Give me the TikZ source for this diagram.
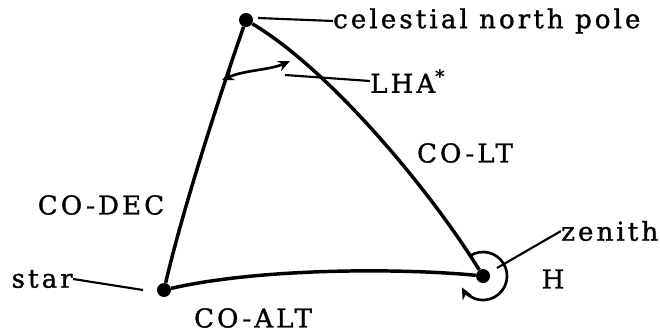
\documentclass[tikz,border=0pt]{standalone}
\usepackage{fontspec}
\setmainfont{DejaVu Serif}[LetterSpace=12,FakeBold=1.2]
\usetikzlibrary{arrows.meta}
\begin{document}
\begin{tikzpicture}[x=0.75pt,y=-0.75pt,
  side/.style={line width=2.6pt},
  leader/.style={line width=1.6pt},
  dot/.style={circle,fill=black,inner sep=0pt,minimum size=10.5pt},
  lbl/.style={font=\fontsize{19.5}{22}\selectfont,inner sep=0pt},
  angarrow/.style={line width=2pt,-{Stealth[length=9pt,width=8pt]}}]
\useasboundingbox (0,0) rectangle (660,332);
\node[dot] (P) at (246,20) {};
\node[dot] (S) at (164,290) {};
\node[dot] (Z) at (483,276) {};
% sides
\draw[side] (P) .. controls (225,80) and (185,200) .. (S);
\draw[side] (P) .. controls (330,70) and (430,190) .. (Z);
\draw[side] (S) .. controls (260,268) and (400,268) .. (Z);
% LHA arc
\coordinate (A1) at (222,80);
\coordinate (A2) at (290,61);
\draw[line width=2pt,{Stealth[length=9pt,width=8pt]}-{Stealth[length=9pt,width=8pt]}] (A1) .. controls (245,70) and (270,70) .. (A2);
% zenith arc
\draw[angarrow] ([shift={(-122:24)}]483,276) arc[start angle=-122,end angle=152,radius=24];
% labels
\node[lbl,anchor=west] (cnp) at (333,21) {celestial north pole};
\draw[leader] (258,18) -- (cnp.west);
\node[lbl,anchor=west] (lha) at (370,81) {LHA\textsuperscript{*}};
\draw[leader] (285,75) -- (lha.west);
\node[lbl] (colt) at (465,153) {CO-LT};
\node[lbl] (codec) at (101,205) {CO-DEC};
\node[lbl] (coalt) at (253,318) {CO-ALT};
\node[lbl,anchor=west] (zen) at (561,231) {zenith};
\draw[leader] (497,268) -- (zen.west);
\node[lbl] (H) at (553,279) {H};
\node[lbl,anchor=east] (star) at (73,279) {star};
\draw[leader] (star.east) -- (143,290);
\end{tikzpicture}
\end{document}
